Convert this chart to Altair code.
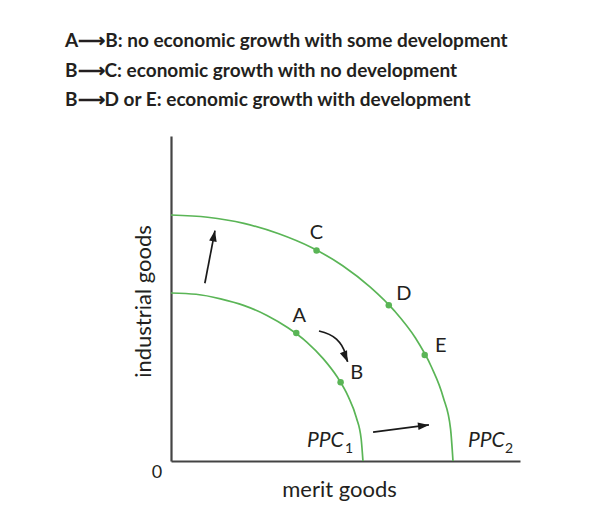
import altair as alt
import pandas as pd

# ---------------- data ----------------
notes = [
    "A\u27f6B: no economic growth with some development",
    "B\u27f6C: economic growth with no development",
    "B\u27f6D or E: economic growth with development",
]

ppc1_x = [0.0, 7.2, 14.2, 21.0, 27.5, 33.5, 38.9, 43.6, 47.6, 50.8, 53.1, 54.5, 55.0]
ppc1_y = [51.7, 51.3, 49.9, 47.8, 44.8, 41.0, 36.6, 31.5, 25.9, 19.8, 13.4, 6.7, 0.0]
ppc2_x = [0.0, 10.5, 20.9, 30.9, 40.4, 49.2, 57.1, 64.1, 70.0, 74.6, 78.0, 80.1, 80.8]
ppc2_y = [75.7, 75.0, 73.1, 69.9, 65.6, 60.1, 53.5, 46.1, 37.9, 29.0, 19.6, 9.9, 0.0]
curve_names = ["PPC", "PPC"]
curve_subs = ["1", "2"]

point_names = ["A", "B", "C", "D", "E"]
point_x = [35.9, 48.6, 41.7, 62.4, 72.7]
point_y = [39.4, 24.2, 64.8, 47.9, 32.6]

arrow_x = [9.7, 57.9]
arrow_y = [54.7, 8.9]
arrow_x2 = [12.6, 73.9]
arrow_y2 = [70.9, 11.1]

bend_x = [42.4, 47.4, 49.9, 50.6]
bend_y = [40.0, 37.5, 33.2, 30.5]

# ---------------- styles ----------------
GREEN = "#5ab556"
TXT = "#231f20"
AX = "#444444"
FONT = "Lato"
HEAD = "M0,0L0.7,2L-0.7,2Z"

label_offsets = {"A": (3, -17), "B": (16, -9), "C": (0, -17), "D": (15, -11), "E": (16, -9)}
head_angles = [11, 83]
bend_angle = 158

xs = alt.Scale(domain=[0, 100], nice=False, zero=False)
ys = alt.Scale(domain=[0, 100], nice=False, zero=False)

xaxis = alt.Axis(title="merit goods", domain=True, domainColor=AX, domainWidth=2.2,
                 ticks=False, labels=False, grid=False, titleFont=FONT, titleFontSize=22,
                 titleFontWeight="normal", titleColor=TXT, titleX=168, titleY=35,
                 titleBaseline="alphabetic", titleAlign="center")
yaxis = alt.Axis(title="industrial goods", domain=True, domainColor=AX, domainWidth=2.2,
                 ticks=False, labels=False, grid=False, titleFont=FONT, titleFontSize=22,
                 titleFontWeight="normal", titleColor=TXT, titleAngle=270, titleX=-21,
                 titleY=165, titleBaseline="alphabetic", titleAlign="center")

# ---------------- tables ----------------
curve_df = pd.concat([
    pd.DataFrame({"x": ppc1_x, "y": ppc1_y, "curve": "PPC1", "i": range(len(ppc1_x))}),
    pd.DataFrame({"x": ppc2_x, "y": ppc2_y, "curve": "PPC2", "i": range(len(ppc2_x))}),
])
points_df = pd.DataFrame({"x": point_x, "y": point_y, "name": point_names})
arrows_df = pd.DataFrame({"x": arrow_x, "y": arrow_y, "x2": arrow_x2, "y2": arrow_y2,
                          "angle": head_angles})
bend_df = pd.DataFrame({"x": bend_x, "y": bend_y, "i": range(len(bend_x))})
ends_df = pd.DataFrame({"x": [ppc1_x[-1], ppc2_x[-1]], "y": [ppc1_y[-1], ppc2_y[-1]],
                        "name": curve_names, "sub": curve_subs})
origin_df = pd.DataFrame({"x": [0], "y": [0], "t": ["0"]})


def X(field="x"):
    return alt.X(f"{field}:Q", scale=xs, axis=xaxis)


def Y(field="y"):
    return alt.Y(f"{field}:Q", scale=ys, axis=yaxis)


layers = []

curves = alt.Chart(curve_df).mark_line(color=GREEN, strokeWidth=1.7, interpolate="monotone").encode(
    x=X(), y=Y(), detail="curve:N", order="i:Q")
layers.append(curves)

dots = alt.Chart(points_df).mark_circle(color=GREEN, size=42, opacity=1).encode(x=X(), y=Y())
layers.append(dots)

for name, (dx, dy) in label_offsets.items():
    layers.append(
        alt.Chart(points_df).transform_filter(alt.datum.name == name).mark_text(
            font=FONT, fontSize=20, color=TXT, dx=dx, dy=dy, align="center", baseline="middle"
        ).encode(x=X(), y=Y(), text="name:N"))

# arrows
layers.append(alt.Chart(arrows_df).mark_rule(color="#1a1a1a", strokeWidth=1.7).encode(
    x=X(), y=Y(), x2="x2:Q", y2="y2:Q"))
layers.append(alt.Chart(arrows_df).mark_point(shape=HEAD, size=120, filled=True, color="#1a1a1a",
                                              opacity=1).encode(
    x=X("x2"), y=Y("y2"), angle=alt.Angle("angle:Q", scale=None)))
layers.append(alt.Chart(bend_df).mark_line(color="#1a1a1a", strokeWidth=1.7,
                                           interpolate="monotone").encode(x=X(), y=Y(), order="i:Q"))
layers.append(alt.Chart(bend_df).transform_filter(alt.datum.i == len(bend_x) - 1).mark_point(
    shape=HEAD, size=120, filled=True, color="#1a1a1a", opacity=1, angle=bend_angle).encode(x=X(), y=Y()))

# curve names
ppc_offsets = [(-56, -14, -18, -8), (15, -14, 52, -8)]
for k, (dxn, dyn, dxs, dys) in enumerate(ppc_offsets):
    sub = ends_df.iloc[[k]]
    layers.append(alt.Chart(sub).mark_text(font=FONT, fontSize=21, fontStyle="italic", color=TXT,
                                           align="left", baseline="alphabetic", dx=dxn, dy=dyn).encode(
        x=X(), y=Y(), text="name:N"))
    layers.append(alt.Chart(sub).mark_text(font=FONT, fontSize=14, color=TXT,
                                           align="left", baseline="alphabetic", dx=dxs, dy=dys).encode(
        x=X(), y=Y(), text="sub:N"))

layers.append(alt.Chart(origin_df).mark_text(font=FONT, fontSize=18, color=TXT, dx=-14, dy=12,
                                             align="center", baseline="middle").encode(
    x=X(), y=Y(), text="t:N"))

# heading lines
for k, line in enumerate(notes):
    layers.append(alt.Chart(pd.DataFrame({"t": [line]})).mark_text(
        font=FONT, fontSize=19, fontWeight="bold", color=TXT, align="left", baseline="alphabetic"
    ).encode(x=alt.value(-106), y=alt.value(-88.7 + 29.4 * k), text="t:N"))

chart = alt.layer(*layers).properties(
    width=349, height=325,
    padding={"left": 163, "top": 128, "right": 76, "bottom": 45},
    autosize=alt.AutoSizeParams(type="none"),
).configure_view(stroke=None)

chart.save("out.html", embed_options={"renderer": "svg", "actions": False})
